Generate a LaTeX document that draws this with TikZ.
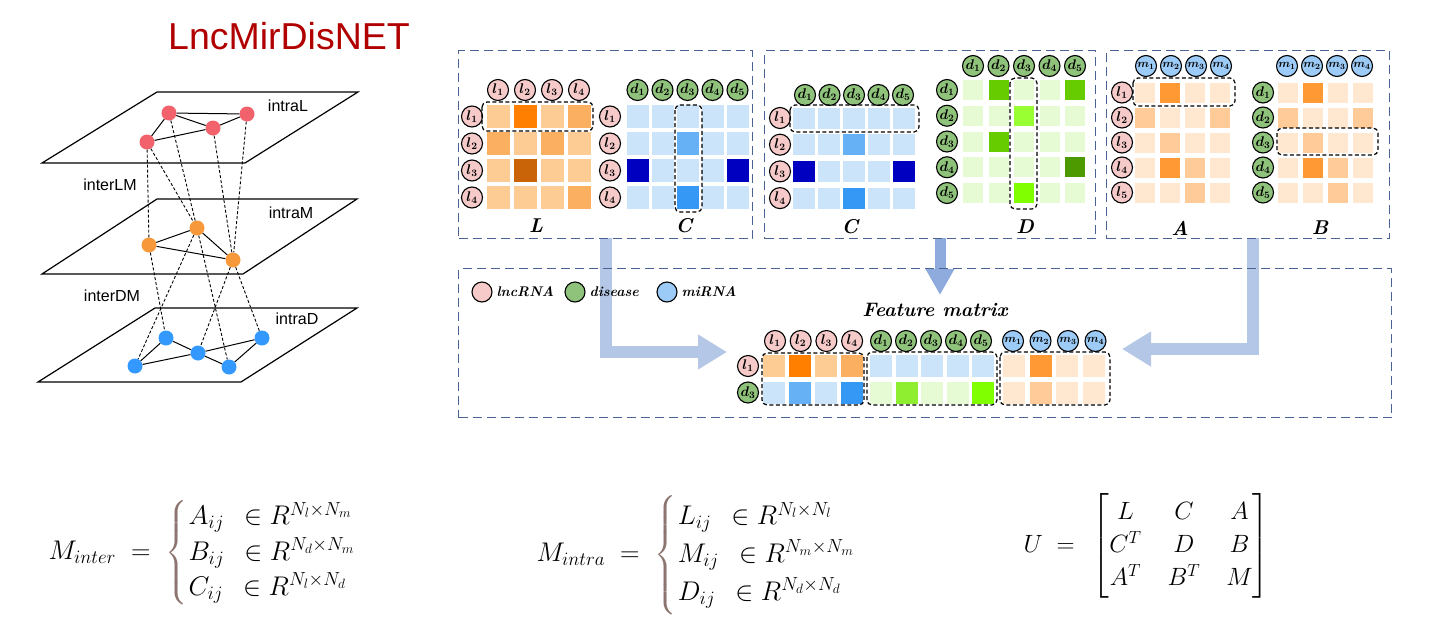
\RequirePackage{fix-cm}
\documentclass[tikz,border=0pt]{standalone}
\usepackage{amsmath}
\usepackage{fontspec}
\newfontfamily\arialf{Liberation Sans}
\usetikzlibrary{arrows.meta}
\definecolor{titred}{HTML}{B00000}
\definecolor{pnl}{HTML}{4A6394}
\definecolor{pinkc}{HTML}{F7CACA}
\definecolor{greenc}{HTML}{8FC27A}
\definecolor{bluec}{HTML}{9CCBF7}
\definecolor{nodered}{HTML}{F2626C}
\definecolor{nodeorg}{HTML}{F7993A}
\definecolor{nodeblu}{HTML}{3399FF}
\definecolor{arrowc}{HTML}{B4C7E7}
\definecolor{arrowd}{HTML}{8FAADC}
\definecolor{bracec}{HTML}{8C7470}
\definecolor{oA}{HTML}{FDCB94}
\definecolor{oB}{HTML}{FBB061}
\definecolor{oC}{HTML}{FF8000}
\definecolor{oD}{HTML}{C96409}
\definecolor{bA}{HTML}{CCE4F9}
\definecolor{bB}{HTML}{66B0F5}
\definecolor{bC}{HTML}{0000C0}
\definecolor{bD}{HTML}{3598F5}
\definecolor{gA}{HTML}{E6FAD3}
\definecolor{gB}{HTML}{66CC00}
\definecolor{gC}{HTML}{99FF33}
\definecolor{gD}{HTML}{4C9900}
\definecolor{gE}{HTML}{80FF00}
\definecolor{gF}{HTML}{90EE30}
\definecolor{pA}{HTML}{FFE7D0}
\definecolor{pB}{HTML}{FFCC99}
\definecolor{pC}{HTML}{FF9933}
\newcommand\cellgrid[7]{%
  \foreach \rr [count=\ii from 0] in {#7}{%
    \foreach \cc [count=\jj from 0] in \rr {%
      \fill[fill=\cc] ({#1+\jj*#3-#5/2},{#2+\ii*#4-#6/2}) rectangle ++(#5,#6);
    }}}
\tikzset{
  panel/.style={draw=pnl, line width=1.1pt, dash pattern=on 9pt off 5pt, rectangle, inner sep=0pt, anchor=north west},
  selbox/.style={draw=black, line width=1.2pt, dash pattern=on 4pt off 2.5pt, rounded corners=5pt},
  lbl/.style={circle, draw=black, line width=1.1pt, inner sep=0pt, minimum size=21pt, font=\boldmath\fontsize{14}{14}\selectfont},
  lnc/.style={lbl, fill=pinkc},
  dis/.style={lbl, fill=greenc},
  mir/.style={lbl, fill=bluec, font=\boldmath\fontsize{11.5}{11.5}\selectfont},
  netn/.style={circle, inner sep=0pt, minimum size=15pt},
  intraedge/.style={draw=black, line width=1pt},
  interedge/.style={draw=black, line width=0.9pt, dash pattern=on 3pt off 2pt},
  layerplane/.style={draw=black, line width=1.2pt},
  nlab/.style={font=\arialf\fontsize{16}{16}\selectfont},
  matlab/.style={font=\fontsize{20}{20}\selectfont\bfseries\itshape},
  legt/.style={anchor=west, font=\fontsize{14}{14}\selectfont\bfseries\itshape},
  bigarrow/.style={line width=12pt, line join=miter, draw=arrowc, -{Triangle[width=33pt,length=29pt]}},
  eqn/.style={anchor=west, font=\fontsize{27}{32}\selectfont},
}
\begin{document}
\begin{tikzpicture}[x=1pt,y=-1pt]
\useasboundingbox (0,0) rectangle (1443,643);

% ---------- title ----------
\node[font=\arialf\fontsize{37.5}{40}\selectfont, text=titred] (title) at (289,36) {LncMirDisNET};

% ---------- left network ----------
\draw[layerplane] (157,92) -- (358,92) -- (245,163) -- (42,163) -- cycle;
\draw[layerplane] (157,199) -- (357,199) -- (243,274) -- (42,274) -- cycle;
\draw[layerplane] (155,308) -- (357,308) -- (241,382) -- (38,382) -- cycle;
\node[nlab] (tintraL) at (288,106) {intraL};
\node[nlab] (tinterLM) at (110,185) {interLM};
\node[nlab] (tintraM) at (291,213) {intraM};
\node[nlab] (tinterDM) at (112,296) {interDM};
\node[nlab] (tintraD) at (297,319) {intraD};

\node[netn, fill=nodered] (r1) at (169,113) {};
\node[netn, fill=nodered] (r2) at (247,114) {};
\node[netn, fill=nodered] (r3) at (213,128) {};
\node[netn, fill=nodered] (r4) at (147,142) {};
\node[netn, fill=nodeorg] (o1) at (197,228) {};
\node[netn, fill=nodeorg] (o2) at (149,245) {};
\node[netn, fill=nodeorg] (o3) at (233,260) {};
\node[netn, fill=nodeblu] (b1) at (166,338) {};
\node[netn, fill=nodeblu] (b2) at (262,338) {};
\node[netn, fill=nodeblu] (b3) at (198,353) {};
\node[netn, fill=nodeblu] (b4) at (135,366) {};
\node[netn, fill=nodeblu] (b5) at (229,367) {};
\draw[intraedge] (r1) -- (r2); \draw[intraedge] (r1) -- (r3); \draw[intraedge] (r1) -- (r4);
\draw[intraedge] (r4) -- (r3); \draw[intraedge] (r3) -- (r2);
\draw[intraedge] (o1) -- (o2); \draw[intraedge] (o1) -- (o3); \draw[intraedge] (o2) -- (o3);
\draw[intraedge] (b1) -- (b3); \draw[intraedge] (b1) -- (b4); \draw[intraedge] (b4) -- (b3);
\draw[intraedge] (b3) -- (b2); \draw[intraedge] (b3) -- (b5); \draw[intraedge] (b5) -- (b2);
\draw[interedge] (r4) -- (o2); \draw[interedge] (r4) -- (o1); \draw[interedge] (r1) -- (o1);
\draw[interedge] (r3) -- (o3); \draw[interedge] (r2) -- (o3);
\draw[interedge] (o2) -- (b1); \draw[interedge] (o1) -- (b4); \draw[interedge] (o1) -- (b5);
\draw[interedge] (o3) -- (b3); \draw[interedge] (o3) -- (b2);

% ---------- arrows (under panels) ----------
\coordinate (a1s) at (606,238); \coordinate (a1e) at (727,352);
\coordinate (a2s) at (940,238); \coordinate (a2e) at (940,295);
\coordinate (a3s) at (1253,238); \coordinate (a3e) at (1122,349);
\draw[bigarrow] (a1s) |- (a1e);
\draw[bigarrow, draw=arrowd, line width=11pt, -{Triangle[width=27pt,length=26pt]}] (a2s) -- (a2e);
\draw[bigarrow] (a3s) |- (a3e);

% ---------- panels ----------
\node[panel, minimum width=294pt, minimum height=188pt] (p1) at (458,50) {};
\node[panel, minimum width=331pt, minimum height=188pt] (p2) at (764,50) {};
\node[panel, minimum width=283pt, minimum height=188pt] (p3) at (1106,50) {};
\node[panel, minimum width=933pt, minimum height=149pt] (fm) at (458,268) {};

% ---------- panel 1: L and C ----------
\cellgrid{498}{116.5}{27}{27}{23}{23}{{oA,oC,oA,oB},{oB,oA,oB,oA},{oA,oD,oA,oA},{oA,oA,oA,oB}}
\cellgrid{637.5}{116.5}{25}{27}{22}{23}{{bA,bA,bA,bA,bA},{bA,bA,bB,bA,bA},{bC,bA,bA,bA,bC},{bA,bA,bD,bA,bA}}
\foreach \k in {1,...,4} {
  \node[lnc] (p1Lh\k) at ({498+27*(\k-1)},90) {$l_{\k}$};
  \node[lnc] (p1Lr\k) at (472,{116.5+27*(\k-1)}) {$l_{\k}$};
  \node[lnc] (p1Cr\k) at (610,{116.5+27*(\k-1)}) {$l_{\k}$};
}
\foreach \k in {1,...,5} {
  \node[dis] (p1Ch\k) at ({637.5+25*(\k-1)},90) {$d_{\k}$};
}
\draw[selbox] (482,102) rectangle (593,131);
\draw[selbox] (675,105) rectangle (702,212);
\node[matlab] (labL) at (536,226) {L};
\node[matlab] (labC1) at (684,226) {C};

% ---------- panel 2: C and D ----------
\cellgrid{804}{118}{25}{26.7}{22}{21}{{bA,bA,bA,bA,bA},{bA,bA,bB,bA,bA},{bC,bA,bA,bA,bC},{bA,bA,bD,bA,bA}}
\cellgrid{973}{90}{25.5}{25.75}{20}{20}{{gA,gB,gA,gA,gB},{gA,gA,gC,gA,gA},{gA,gB,gA,gA,gA},{gA,gA,gA,gA,gD},{gA,gA,gE,gA,gA}}
\foreach \k in {1,...,5} {
  \node[dis] (p2Ch\k) at ({805+24.5*(\k-1)},95) {$d_{\k}$};
  \node[dis] (p2Dh\k) at ({973+25.5*(\k-1)},66) {$d_{\k}$};
  \node[dis] (p2Dr\k) at (947,{90+25.75*(\k-1)}) {$d_{\k}$};
}
\foreach \k in {1,...,4} {
  \node[lnc] (p2Cr\k) at (780,{118+26.7*(\k-1)}) {$l_{\k}$};
}
\draw[selbox] (790,105) rectangle (919,132);
\draw[selbox] (1010,78) rectangle (1037,209);
\node[matlab] (labC2) at (850,227) {C};
\node[matlab] (labD) at (1025,227) {D};

% ---------- panel 3: A and B ----------
\cellgrid{1145}{92.5}{25}{25}{20}{20}{{pA,pC,pA,pA},{pB,pA,pA,pB},{pA,pB,pA,pA},{pA,pC,pB,pA},{pA,pA,pB,pA}}
\cellgrid{1288}{92.5}{25}{25}{20}{20}{{pA,pC,pA,pA},{pB,pA,pA,pB},{pA,pB,pA,pA},{pA,pC,pB,pA},{pA,pA,pB,pA}}
\foreach \k in {1,...,4} {
  \node[mir] (p3Ah\k) at ({1146+25*(\k-1)},66) {$m_{\k}$};
  \node[mir] (p3Bh\k) at ({1287+25*(\k-1)},66) {$m_{\k}$};
}
\foreach \k in {1,...,5} {
  \node[lnc] (p3Ar\k) at (1122,{92.5+25*(\k-1)}) {$l_{\k}$};
  \node[dis] (p3Br\k) at (1263,{92.5+25*(\k-1)}) {$d_{\k}$};
}
\draw[selbox] (1133,78) rectangle (1235,106);
\draw[selbox] (1277,128) rectangle (1378,155);
\node[matlab] (labA) at (1180,228) {A};
\node[matlab] (labB) at (1320,228) {B};

% ---------- feature matrix panel ----------
\node[lnc, minimum size=20pt] (lg1) at (482,292) {};
\node[legt] (lg1t) at (493,292) {lncRNA};
\node[dis, minimum size=20pt] (lg2) at (575,292) {};
\node[legt] (lg2t) at (586,292) {disease};
\node[mir, minimum size=20pt] (lg3) at (667,292) {};
\node[legt] (lg3t) at (678,292) {miRNA};
\node[font=\fontsize{19.5}{20}\selectfont\bfseries\itshape] (fmt) at (935,310) {Feature matrix};

\cellgrid{774}{366}{26}{26.5}{22}{22}{{oA,oC,oA,oB},{bA,bB,bA,bD}}
\cellgrid{881}{366}{25.5}{26.5}{22}{22}{{bA,bA,bA,bA,bA},{gA,gF,gA,gA,gE}}
\cellgrid{1014}{366}{26.7}{26.5}{22}{22}{{pA,pC,pA,pA},{pA,pB,pA,pA}}
\foreach \k in {1,...,4} {
  \node[lnc] (fLh\k) at ({775+25.7*(\k-1)},341) {$l_{\k}$};
  \node[mir] (fMh\k) at ({1013+27.5*(\k-1)},341) {$m_{\k}$};
}
\foreach \k in {1,...,5} {
  \node[dis] (fDh\k) at ({881+25*(\k-1)},341) {$d_{\k}$};
}
\node[lnc] (fr1) at (748,366) {$l_{1}$};
\node[dis] (fr2) at (748,392.5) {$d_{3}$};
\draw[selbox] (762,353) rectangle (864,405);
\draw[selbox] (867,352) rectangle (997,405);
\draw[selbox] (1000,352) rectangle (1110,405);

% ---------- equations ----------
\node[eqn] (eqinter) at (45,553) {$\setlength{\arraycolsep}{1pt}\renewcommand{\arraystretch}{1.1}M_{inter} \;=\; {\color{bracec}\left\{\color{black}\begin{array}{l} A_{ij}\ \,\in R^{N_l\times N_m}\\ B_{ij}\ \,\in R^{N_d\times N_m}\\ C_{ij}\ \,\in R^{N_l\times N_d}\end{array}\right.}$};
\node[eqn] (eqintra) at (533,555) {$\setlength{\arraycolsep}{1pt}\renewcommand{\arraystretch}{1.18}M_{intra} \;=\; {\color{bracec}\left\{\color{black}\begin{array}{l} L_{ij}\ \,\in R^{N_l\times N_l}\\ M_{ij}\ \,\in R^{N_m\times N_m}\\ D_{ij}\ \,\in R^{N_d\times N_d}\end{array}\right.}$};
\node[eqn, font=\fontsize{25}{30}\selectfont] (equ) at (1020,546) {$\setlength{\arraycolsep}{13pt}\renewcommand{\arraystretch}{1.1}U \;=\;\, \begin{bmatrix} L & C & A\\ C^T & D & B\\ A^T & B^T & M\end{bmatrix}$};
\end{tikzpicture}
\end{document}
